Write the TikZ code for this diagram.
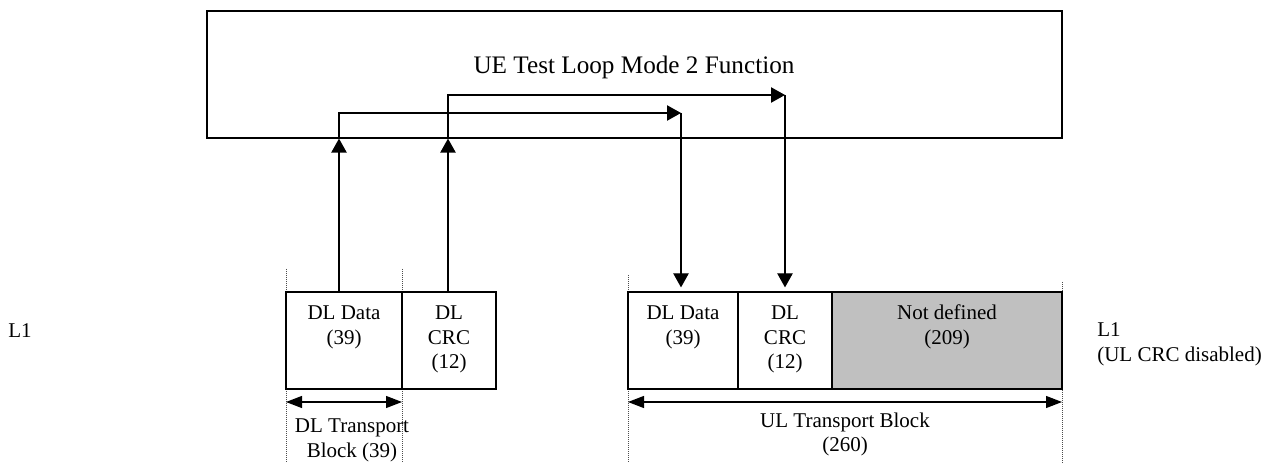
\documentclass[tikz,border=0pt]{standalone}
\usepackage{fontspec}
\setmainfont{Liberation Serif}
\usetikzlibrary{arrows.meta,fit}
\definecolor{ndgray}{RGB}{192,192,192}
\begin{document}
\begin{tikzpicture}[x=0.75pt,y=-0.75pt,
  lbl/.style={inner sep=0,anchor=base,font=\fontsize{15.75}{18}\selectfont},
  lbll/.style={lbl,anchor=base west},
  ttl/.style={inner sep=0,anchor=base,font=\fontsize{18.9}{22}\selectfont},
  box/.style={draw,line width=0.9pt,inner sep=0},
  arr/.style={line width=0.9pt,-{Triangle[length=10.5pt,width=11.5pt]}},
  dbl/.style={line width=0.9pt,{Triangle[length=12pt,width=9pt]}-{Triangle[length=12pt,width=9pt]}},
  guide/.style={densely dotted,line width=0.5pt,black!70}]
\useasboundingbox (0,0) rectangle (1265,463);

% main function box
\node[box,fit={(207,11) (1062,138)}] (fn) {};
\node[ttl] (title) at (634,74) {UE Test Loop Mode 2 Function};

% guides
\draw[guide] (286,269) -- (286,463);
\draw[guide] (402,269) -- (402,463);
\draw[guide] (628,275) -- (628,463);
\draw[guide] (1062,282) -- (1062,463);

% DL cells
\node[box,fit={(286,292) (402,389)}] (dd) {};
\node[box,fit={(402,292) (496,389)}] (dc) {};
% UL cells
\node[box,fit={(628,292) (738,389)}] (ud) {};
\node[box,fit={(738,292) (832,389)}] (uc) {};
\node[box,fill=ndgray,fit={(832,292) (1062,389)}] (nd) {};

% cell texts
\node[lbl] (dd1) at (344,320) {DL Data};
\node[lbl] (dd2) at (344,345) {(39)};
\node[lbl] (dc1) at (449,320) {DL};
\node[lbl] (dc2) at (449,345) {CRC};
\node[lbl] (dc3) at (449,369) {(12)};
\node[lbl] (ud1) at (683,320) {DL Data};
\node[lbl] (ud2) at (683,345) {(39)};
\node[lbl] (uc1) at (785,320) {DL};
\node[lbl] (uc2) at (785,345) {CRC};
\node[lbl] (uc3) at (785,369) {(12)};
\node[lbl] (nd1) at (947,320) {Not defined};
\node[lbl] (nd2) at (947,345) {(209)};

% side labels
\node[lbll] (l1a) at (8,338) {L1};
\node[lbll] (l1b) at (1097,337) {L1};
\node[lbll] (l1c) at (1097,362) {(UL CRC disabled)};

% loop connectors
\coordinate (p1) at (339,113);
\coordinate (q1) at (681,113);
\coordinate (p2) at (448,95);
\coordinate (q2) at (785,95);
\draw[arr] (p1 |- dd.north) -- (p1 |- fn.south);
\draw[arr] (p1 |- fn.south) -- (p1) -- (q1);
\draw[arr,shorten >=3pt] (q1) -- (q1 |- ud.north);
\draw[arr] (p2 |- dc.north) -- (p2 |- fn.south);
\draw[arr] (p2 |- fn.south) -- (p2) -- (q2);
\draw[arr,shorten >=3pt] (q2) -- (q2 |- uc.north);

% transport block extents
\coordinate (dl0) at (286,402);
\coordinate (dl1) at (402,402);
\coordinate (ul0) at (628,402);
\coordinate (ul1) at (1062,402);
\draw[dbl] (dl0) -- (dl1);
\draw[dbl] (ul0) -- (ul1);
\node[lbl] (dtb1) at (352,433) {DL Transport};
\node[lbl] (dtb2) at (352,458) {Block (39)};
\node[lbl] (utb1) at (845,428) {UL Transport Block};
\node[lbl] (utb2) at (845,452) {(260)};
\end{tikzpicture}
\end{document}
